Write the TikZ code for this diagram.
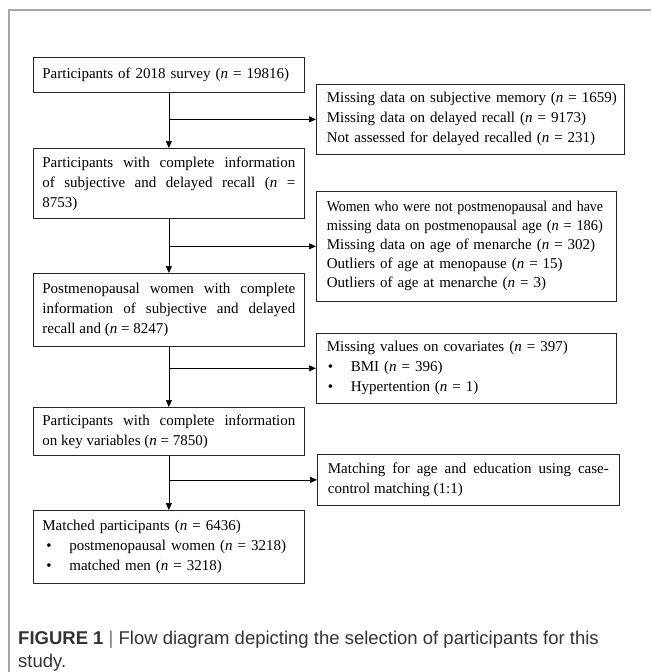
\documentclass[tikz,border=0pt]{standalone}
\usepackage{fontspec}
\usepackage{graphicx}
\setmainfont{Liberation Serif}
\newfontfamily\capfont{Liberation Sans}
\usetikzlibrary{arrows.meta}
\tolerance=10000
\hbadness=10000
\hfuzz=30pt
\newcommand\bul[1]{\hspace*{#1}\makebox[23pt][l]{\textbullet}}
\newcommand\oneline[1]{\mbox{#1}}
\begin{document}
\begin{tikzpicture}[x=1pt,y=-1pt,
  box/.style={draw=black!85, line width=0.7pt, anchor=north west, inner xsep=9pt, inner ysep=0pt, align=left, font=\fontsize{15}{20}\selectfont},
  rbox/.style={box, inner xsep=10.5pt},
  jbox/.style={box, align=justify},
  arr/.style={line width=0.7pt, draw=black, -{Triangle[length=7pt,width=6pt]}},
  frameline/.style={draw=black!35, line width=1.5pt},
  captext/.style={anchor=base west, inner sep=0pt, text=black!80, font=\capfont\fontsize{18.5}{24}\selectfont}]
\useasboundingbox (0,0) rectangle (651,672);
% outer frame
\coordinate (fTR) at (651,10);
\coordinate (fTL) at (9,10);
\coordinate (fBL) at (9,672);
\draw[frameline] (fTR) -- (fTL) -- (fBL);
% main column
\node[box, text width=253pt, minimum height=35pt] (b1) at (33,57)
  {\oneline{Participants of 2018 survey (\textit{n} = 19816)}};
\node[jbox, text width=253pt, minimum height=70pt] (b2) at (33,148)
  {Participants with complete information\linebreak
   of subjective and delayed recall (\textit{n} =\linebreak
   8753)};
\node[jbox, text width=253pt, minimum height=73pt] (b3) at (33,273)
  {Postmenopausal women with complete\linebreak
   information of subjective and delayed\linebreak
   recall and (\textit{n} = 8247)};
\node[jbox, text width=253pt, minimum height=48pt] (b4) at (33,407)
  {Participants with complete information\linebreak
   on key variables (\textit{n} = 7850)};
\node[box, text width=253pt, minimum height=73pt] (b5) at (33,510)
  {\oneline{Matched participants (\textit{n} = 6436)}\\
   \oneline{\bul{4pt}postmenopausal women (\textit{n} = 3218)}\\
   \oneline{\bul{4pt}matched men (\textit{n} = 3218)}};
% exclusion boxes
\node[rbox, text width=287pt, minimum height=70pt] (r1) at (316,84)
  {\oneline{Missing data on subjective memory (\textit{n} = 1659)}\\
   \oneline{Missing data on delayed recall (\textit{n} = 9173)}\\
   \oneline{Not assessed for delayed recalled (\textit{n} = 231)}};
\node[rbox, text width=279pt, minimum height=110pt, font=\fontsize{15}{19}\selectfont] (r2) at (316,191)
  {\scalebox{0.93}[1]{Women who were not postmenopausal and have}\\
   \scalebox{0.96}[1]{missing data on postmenopausal age (\textit{n} = 186)}\\
   \oneline{Missing data on age of menarche (\textit{n} = 302)}\\
   \oneline{Outliers of age at menopause (\textit{n} = 15)}\\
   \oneline{Outliers of age at menarche (\textit{n} = 3)}};
\node[rbox, text width=279pt, minimum height=70pt] (r3) at (316,333)
  {\oneline{Missing values on covariates (\textit{n} = 397)}\\
   \oneline{\bul{1pt}BMI (\textit{n} = 396)}\\
   \oneline{\bul{1pt}Hypertention (\textit{n} = 1)}};
\node[rbox, align=justify, text width=281pt, minimum height=51pt] (r4) at (317,454)
  {Matching for age and education using case-\linebreak
   control matching (1:1)};
% connectors
\draw[arr] (b1.south) -- (b2.north);
\draw[arr] (b2.south) -- (b3.north);
\draw[arr] (b3.south) -- (b4.north);
\draw[arr] (b4.south) -- (b5.north);
\draw[arr] (b1.south |- r1.west) -- (r1.west);
\draw[arr] (b2.south |- r2.west) -- (r2.west);
\draw[arr] (b3.south |- r3.west) -- (r3.west);
\draw[arr] (b4.south |- r4.west) -- (r4.west);
% caption
\node[captext] (cap1) at (18,644)
  {\textbf{FIGURE 1} {\color{black!55}|} Flow diagram depicting the selection of participants for this};
\node[captext] (cap2) at (18,667) {study.};
\end{tikzpicture}
\end{document}
